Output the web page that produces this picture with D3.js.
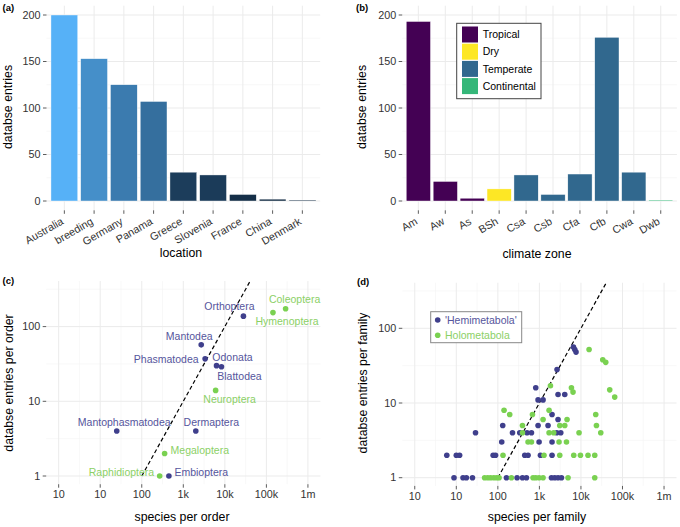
<!DOCTYPE html>
<html>
<head>
<meta charset="utf-8">
<script src="https://cdn.jsdelivr.net/npm/d3@7"></script>
<style>
  body { margin: 0; background: #fff; }
  text { font-family: "Liberation Sans", Arial, sans-serif; }
</style>
</head>
<body>
<svg id="fig" width="680" height="527"></svg>
<script>
// panel (a): entries per location
const locations = ["Australia", "breeding", "Germany", "Panama", "Greece", "Slovenia", "France", "China", "Denmark"];
const locationEntries = [200, 153, 125, 107, 31, 28, 7, 2, 1];

// panel (b): entries per climate zone
const climateZones = ["Am", "Aw", "As", "BSh", "Csa", "Csb", "Cfa", "Cfb", "Cwa", "Dwb"];
const climateEntries = [193, 21, 3, 13, 28, 7, 29, 176, 31, 1];
const climateZoneGroup = ["Tropical", "Tropical", "Tropical", "Dry", "Temperate", "Temperate", "Temperate", "Temperate", "Temperate", "Continental"];
const climateGroups = ["Tropical", "Dry", "Temperate", "Continental"];

// panel (c): per order
const orders = ["Orthoptera", "Coleoptera", "Hymenoptera", "Mantodea", "Phasmatodea", "Odonata", "Blattodea",
  "Neuroptera", "Mantophasmatodea", "Dermaptera", "Megaloptera", "Raphidioptera", "Embioptera"];
const orderSpecies = [28000, 290000, 144000, 2700, 3350, 6300, 8300, 6000, 25, 2000, 355, 270, 450];
const orderEntries = [138, 173, 154, 57, 37, 30, 29, 14, 4, 4, 2, 1, 1];
const orderGroup = ["Hemi", "Holo", "Holo", "Hemi", "Hemi", "Hemi", "Hemi", "Holo", "Hemi", "Hemi", "Holo", "Holo", "Hemi"];

// panel (d): per family
const hemiSpecies = [8.8, 14.5, 17.5, 24.5, 161, 290, 391, 488, 1950, 2340, 2810, 3400,
  5.9, 10, 12, 77, 88, 444, 533, 1060, 2015,
  124, 982, 2015,
  29, 225, 337, 504, 644, 2620, 3270,
  131, 929, 1615,
  2810, 2015, 929, 1225, 2810, 4075, 817, 2660, 6600, 7100, 7620];
const hemiEntries = [1, 1, 1, 1, 1, 1, 1, 1, 1, 1, 1, 1,
  2, 2, 2, 2, 2, 2, 2, 2, 2,
  3, 3, 3,
  4, 4, 4, 4, 4, 4, 4,
  5, 5, 5,
  6, 7, 11, 11, 13, 13, 16, 28, 56, 52, 48];
const holoSpecies = [48, 57, 67, 80, 94, 107, 212, 703, 817, 982, 1225, 4890, 21500,
  133, 1290, 3090, 6710, 9730, 14800, 21500,
  533, 644, 2970, 4480,
  391, 1710, 2210, 9000, 30000,
  391, 3090, 4075, 23600,
  1225, 4630,
  193, 681, 22700,
  141, 1710,
  65000, 6450, 49300, 5900, 1845, 15700, 33500, 39500];
const holoEntries = [1, 1, 1, 1, 1, 1, 1, 1, 1, 1, 1, 1, 1,
  2, 2, 2, 2, 2, 2, 2,
  3, 3, 3, 3,
  4, 4, 4, 4, 4,
  5, 5, 5, 5,
  6, 6,
  7, 7, 7,
  8, 8,
  12, 14, 15, 16, 17, 52, 38, 35];

// species per database entry along the dashed reference line
const speciesPerEntry = 100;

const logTicks = [1, 10, 100, 1e3, 1e4, 1e5, 1e6];
const logTickLabels = ["10", "10", "100", "1k", "10k", "100k", "1m"];
const countTicks = [1, 10, 100];

const svg = d3.select("#fig");
const gridMajor = "#ebebeb", gridMinor = "#f3f3f3";
const tickCol = "#333", labCol = "#333";
const hemiCol = "#3f3f8c", holoCol = "#7ad151";
const hemiText = "#55559c", holoText = "#8bd066";
const climateColor = d3.scaleOrdinal().domain(climateGroups).range(["#440154", "#fde725", "#31688e", "#35b779"]);

function hline(g, y, x0, x1, col, w) {
  g.append("line").attr("x1", x0).attr("x2", x1).attr("y1", y).attr("y2", y).attr("stroke", col).attr("stroke-width", w);
}
function vline(g, x, y0, y1, col, w) {
  g.append("line").attr("x1", x).attr("x2", x).attr("y1", y0).attr("y2", y1).attr("stroke", col).attr("stroke-width", w);
}

function yAxisTitle(x, y, txt) {
  svg.append("text").attr("transform", `translate(${x},${y}) rotate(-90)`)
    .attr("text-anchor", "middle").attr("font-size", 12.3).text(txt);
}
function xAxisTitle(x, y, txt) {
  svg.append("text").attr("x", x).attr("y", y).attr("text-anchor", "middle").attr("font-size", 12.3).text(txt);
}
function panelTag(x, y, txt) {
  svg.append("text").attr("x", x).attr("y", y).attr("font-size", 9.5).attr("font-weight", "bold").text(txt);
}

function yTicks(g, y, values, labels, x0) {
  values.forEach((v, i) => {
    hline(g, y(v), x0 - 3.5, x0, tickCol, 0.8);
    g.append("text").attr("x", x0 - 6).attr("y", y(v)).attr("dy", "0.35em")
      .attr("text-anchor", "end").attr("font-size", 10.8).attr("fill", labCol).text(labels[i]);
  });
}

// ---------- bar panels ----------
function barPanel(cats, vals, x0, x1, fillFn, tag, tagX) {
  const g = svg.append("g");
  const x = d3.scaleBand().domain(cats).range([x0, x1]).paddingInner(0.1).paddingOuter(0.15);
  const y = d3.scaleLinear().domain([-10, 210]).range([210.3, 5.7]);
  const yb = y.range();
  d3.range(-25, 226, 50).filter(v => v > -10 && v < 210).forEach(v => hline(g, y(v), x0, x1, gridMinor, 0.6));
  [0, 50, 100, 150, 200].forEach(v => hline(g, y(v), x0, x1, gridMajor, 1));
  cats.forEach(c => vline(g, x(c) + x.bandwidth() / 2, yb[1], yb[0], gridMajor, 1));

  g.selectAll("rect").data(vals).join("rect")
    .attr("x", (d, i) => x(cats[i]))
    .attr("width", x.bandwidth())
    .attr("y", d => y(d))
    .attr("height", d => y(0) - y(d))
    .attr("fill", (d, i) => fillFn(d, i))
    .attr("stroke", "#fff").attr("stroke-width", 0.4);

  yTicks(g, y, [0, 50, 100, 150, 200], ["0", "50", "100", "150", "200"], x0);
  cats.forEach(c => {
    const cx = x(c) + x.bandwidth() / 2;
    vline(g, cx, yb[0], yb[0] + 3.5, tickCol, 0.8);
    g.append("text").attr("transform", `translate(${cx - 4},${yb[0] + 6.4}) rotate(-30)`)
      .attr("text-anchor", "end").attr("dy", "0.72em").attr("font-size", 10.8).attr("fill", labCol).text(c);
  });
  panelTag(tagX, 10.5, tag);
  return { x, y };
}

const locColor = d3.scaleLinear().domain([d3.min(locationEntries), d3.max(locationEntries)])
  .range(["#132b43", "#56b1f7"]).interpolate(d3.interpolateLab);
barPanel(locations, locationEntries, 46.5, 320.2, d => locColor(d), "(a)", 2.5);
yAxisTitle(12, 107, "databse entries");
xAxisTitle(181, 257, "location");

barPanel(climateZones, climateEntries, 402.2, 676.9, (d, i) => climateColor(climateZoneGroup[i]), "(b)", 356);
yAxisTitle(366, 107, "databse entries");
xAxisTitle(537, 258, "climate zone");

// legend (b)
const lg = svg.append("g");
lg.append("rect").attr("x", 456.7).attr("y", 23.3).attr("width", 84.3).attr("height", 75.4)
  .attr("fill", "#fff").attr("stroke", "#444").attr("stroke-width", 1);
climateGroups.forEach((k, i) => {
  const cy = 34.5 + i * 17.2;
  lg.append("rect").attr("x", 462).attr("y", cy - 8).attr("width", 16).attr("height", 16).attr("fill", climateColor(k));
  lg.append("text").attr("x", 482.7).attr("y", cy).attr("dy", "0.35em").attr("font-size", 10.5).text(k);
});

// ---------- scatter panels ----------
function logPanel(x0, x1, yOne) {
  const g = svg.append("g");
  const x = d3.scaleLog().domain([Math.pow(10, -0.3), Math.pow(10, 6.3)]).range([x0, x1]);
  const dec = 74.7;
  const y = d3.scaleLog().domain([Math.pow(10, -0.11), Math.pow(10, 2.61)]).range([yOne + 0.11 * dec, yOne - 2.61 * dec]);
  const [yb, yt] = y.range();
  [0.5, 1.5, 2.5].forEach(e => hline(g, y(Math.pow(10, e)), x0, x1, gridMinor, 0.6));
  [0.5, 1.5, 2.5, 3.5, 4.5, 5.5].forEach(e => vline(g, x(Math.pow(10, e)), yt, yb, gridMinor, 0.6));
  countTicks.forEach(v => hline(g, y(v), x0, x1, gridMajor, 1));
  logTicks.forEach(v => vline(g, x(v), yt, yb, gridMajor, 1));

  yTicks(g, y, countTicks, countTicks.map(String), x0);
  logTicks.forEach((v, i) => {
    vline(g, x(v), yb, yb + 3.5, tickCol, 0.8);
    g.append("text").attr("x", x(v)).attr("y", yb + 6.5).attr("dy", "0.72em")
      .attr("text-anchor", "middle").attr("font-size", 10.8).attr("fill", labCol).text(logTickLabels[i]);
  });

  // dashed reference line: one database entry per 100 species
  const xs = speciesPerEntry, xe = y.domain()[1] * speciesPerEntry;
  g.append("line").attr("x1", x(xs)).attr("y1", y(xs / speciesPerEntry))
    .attr("x2", x(xe)).attr("y2", y(xe / speciesPerEntry))
    .attr("stroke", "#000").attr("stroke-width", 1.2).attr("stroke-dasharray", "4,2.6");
  return { g, x, y };
}

// (c)
const pc = logPanel(46.2, 320.4, 476);
const labelNudge = {
  Orthoptera: [-14, -9.5, "middle"], Coleoptera: [9, -9, "middle"], Hymenoptera: [14, 9, "middle"],
  Mantodea: [-12, -8.5, "middle"], Phasmatodea: [-6.5, 0.5, "end"], Odonata: [16, -8.5, "middle"],
  Blattodea: [18, 10, "middle"], Neuroptera: [14, 9, "middle"], Mantophasmatodea: [7.5, -8.5, "middle"],
  Dermaptera: [15.5, -8.5, "middle"], Megaloptera: [6, -3, "start"], Raphidioptera: [-5.5, -4, "end"],
  Embioptera: [5.5, -4, "start"]
};
orders.forEach((o, i) => {
  const px = pc.x(orderSpecies[i]), py = pc.y(orderEntries[i]);
  const n = labelNudge[o];
  pc.g.append("text").attr("x", px + n[0]).attr("y", py + n[1]).attr("dy", "0.35em")
    .attr("text-anchor", n[2]).attr("font-size", 10.5)
    .attr("fill", orderGroup[i] === "Hemi" ? hemiText : holoText).text(o);
});
pc.g.selectAll("circle").data(orders).join("circle")
  .attr("cx", (d, i) => pc.x(orderSpecies[i]))
  .attr("cy", (d, i) => pc.y(orderEntries[i]))
  .attr("r", 2.8)
  .attr("fill", (d, i) => orderGroup[i] === "Hemi" ? hemiCol : holoCol);
panelTag(2.5, 283.5, "(c)");
yAxisTitle(12.5, 383, "databse entries per order");
xAxisTitle(182, 521, "species per order");

// (d)
const pd = logPanel(402.3, 676.5, 477.7);
const fam = hemiSpecies.map((s, i) => ({ s, e: hemiEntries[i], c: hemiCol }))
  .concat(holoSpecies.map((s, i) => ({ s, e: holoEntries[i], c: holoCol })));
pd.g.selectAll("circle").data(fam).join("circle")
  .attr("cx", d => pd.x(d.s)).attr("cy", d => pd.y(d.e)).attr("r", 2.8).attr("fill", d => d.c);

const ld = svg.append("g");
ld.append("rect").attr("x", 430.7).attr("y", 311.7).attr("width", 91).attr("height", 31)
  .attr("fill", "#fff").attr("stroke", "#888").attr("stroke-width", 1);
[["'Hemimetabola'", hemiCol, hemiText], ["Holometabola", holoCol, holoText]].forEach((k, i) => {
  const cy = 320 + i * 15.3;
  ld.append("circle").attr("cx", 437.7).attr("cy", cy).attr("r", 2.8).attr("fill", k[1]);
  ld.append("text").attr("x", 445).attr("y", cy).attr("dy", "0.35em").attr("font-size", 10.5).attr("fill", k[2]).text(k[0]);
});
panelTag(357, 285, "(d)");
yAxisTitle(367, 383, "databse entries per family");
xAxisTitle(537, 521, "species per family");
</script>
</body>
</html>
